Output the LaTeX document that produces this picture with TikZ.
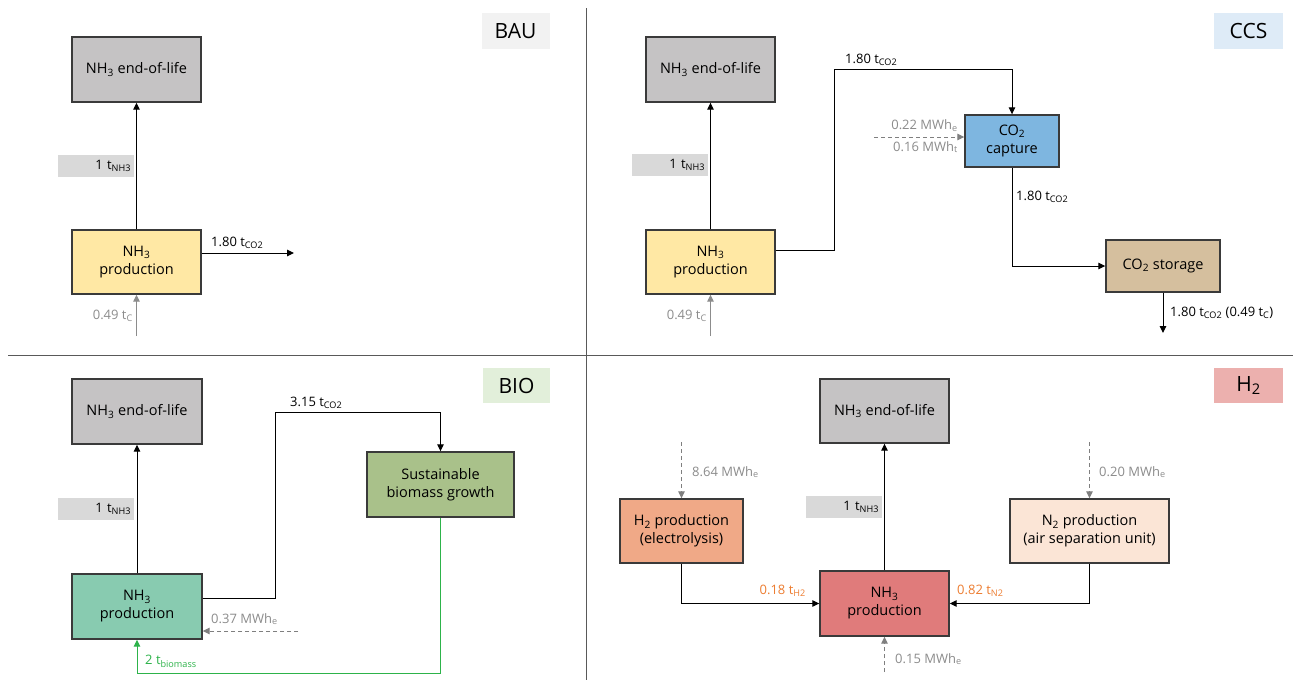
\documentclass[tikz,border=0pt]{standalone}
\usepackage{fontspec}
\setmainfont{Open Sans}
\usetikzlibrary{arrows.meta}
\definecolor{bordc}{HTML}{3A3A3A}
\definecolor{eolc}{HTML}{C5C3C4}
\definecolor{yelc}{HTML}{FFE8A4}
\definecolor{capc}{HTML}{7EB6E0}
\definecolor{stoc}{HTML}{D5BF9E}
\definecolor{bioprodc}{HTML}{88CBB0}
\definecolor{biogc}{HTML}{A9C18A}
\definecolor{hprodc}{HTML}{E07B7B}
\definecolor{htwoc}{HTML}{F0A987}
\definecolor{ntwoc}{HTML}{FBE5D6}
\definecolor{lblc}{HTML}{D9D9D9}
\definecolor{grayt}{HTML}{8C8C8C}
\definecolor{dashc}{HTML}{7F7F7F}
\definecolor{greenc}{HTML}{2DB34A}
\definecolor{orangec}{HTML}{ED7D31}
\definecolor{divc}{HTML}{595959}
\definecolor{baufill}{HTML}{F2F2F2}
\definecolor{ccsfill}{HTML}{DEEBF7}
\definecolor{biofill}{HTML}{E2EFDA}
\definecolor{hfill}{HTML}{ECB0AE}
\newcommand{\sbs}[1]{\textsubscript{#1}}
\tikzset{
  box/.style={draw=bordc, line width=1.4pt, align=center, inner sep=0pt, font=\fontsize{14.5}{18}\selectfont},
  flowlbl/.style={fill=lblc, minimum width=76pt, minimum height=22pt, text width=70pt, align=right, inner sep=2pt, font=\fontsize{13}{15}\selectfont},
  tag/.style={inner sep=0pt, font=\fontsize{21}{24}\selectfont},
  lbl/.style={inner sep=0pt, font=\fontsize{13}{15}\selectfont},
  arr/.style={line width=1pt, -{Triangle[length=7pt,width=6.5pt]}},
  grayarr/.style={draw=grayt, line width=1pt, -{Triangle[length=7pt,width=6.5pt]}, grayt},
  dasharr/.style={draw=dashc, line width=1pt, dash pattern=on 4pt off 3pt, -{Triangle[length=7pt,width=6.5pt]}, dashc},
  greenarr/.style={draw=greenc, line width=1pt, -{Triangle[length=7pt,width=6.5pt]}, greenc},
  divider/.style={draw=divc, line width=1pt}
}
\begin{document}
\begin{tikzpicture}[x=1pt,y=-1pt]
\useasboundingbox[fill=white] (0,0) rectangle (1293,680);
% dividers
\coordinate (v1) at (586,8); \coordinate (v2) at (586,680);
\coordinate (h1) at (8,355); \coordinate (h2) at (1293,355);
\draw[divider] (v1) -- (v2);
\draw[divider] (h1) -- (h2);

% ================= BAU =================
\node[tag, fill=baufill, minimum width=68pt, minimum height=36pt] (b-tag) at (515.5,31) {BAU};
\node[box, fill=eolc, minimum width=129pt, minimum height=65pt] (b-eol) at (136.5,69.5) {NH\sbs{3} end-of-life};
\node[box, fill=yelc, minimum width=129pt, minimum height=64pt] (b-prod) at (136.5,262) {NH\sbs{3}\\production};
\node[flowlbl] (b-l1) at (96,166) {1 t\sbs{NH3}};
\draw[arr] (b-prod) -- (b-eol);
\coordinate (b-co2) at (294,253);
\draw[arr] (b-prod.east |- b-co2) -- (b-co2);
\node[lbl, anchor=south west] (b-l2) at (211,249) {1.80 t\sbs{CO2}};
\coordinate (b-cin) at (136.5,336);
\draw[grayarr] (b-cin) -- (b-prod.south);
\node[lbl, grayt, anchor=east] (b-l3) at (133,316) {0.49 t\sbs{C}};

% ================= CCS =================
\node[tag, fill=ccsfill, minimum width=69pt, minimum height=36pt] (c-tag) at (1248.5,31) {CCS};
\node[box, fill=eolc, minimum width=129pt, minimum height=65pt] (c-eol) at (710.5,69.5) {NH\sbs{3} end-of-life};
\node[box, fill=yelc, minimum width=129pt, minimum height=64pt] (c-prod) at (710.5,262) {NH\sbs{3}\\production};
\node[flowlbl] (c-l1) at (670,165) {1 t\sbs{NH3}};
\draw[arr] (c-prod) -- (c-eol);
\node[box, fill=capc, minimum width=94pt, minimum height=52pt] (c-cap) at (1012,141) {CO\sbs{2}\\capture};
\node[box, fill=stoc, minimum width=114pt, minimum height=52pt] (c-sto) at (1163,266) {CO\sbs{2} storage};
\coordinate (c-k1) at (834,250);
\coordinate (c-k2) at (834,69);
\draw[arr] (c-prod.east |- c-k1) -- (c-k1) -- (c-k2) -| (c-cap.north);
\node[lbl, anchor=south west] (c-l2) at (845,66) {1.80 t\sbs{CO2}};
\coordinate (c-ein) at (874,137);
\draw[dasharr] (c-ein) -- (c-cap.west |- c-ein);
\node[lbl, grayt, anchor=south east] (c-l3) at (958,132) {0.22 MWh\sbs{e}};
\node[lbl, grayt, anchor=north east] (c-l4) at (958,141) {0.16 MWh\sbs{t}};
\draw[arr] (c-cap.south) |- (c-sto.west);
\node[lbl, anchor=west] (c-l5) at (1016,197) {1.80 t\sbs{CO2}};
\coordinate (c-out) at (1163,333);
\draw[arr] (c-sto.south) -- (c-out);
\node[lbl, anchor=west] (c-l6) at (1170,313) {1.80 t\sbs{CO2} (0.49 t\sbs{C})};
\coordinate (c-cin) at (710.5,336);
\draw[grayarr] (c-cin) -- (c-prod.south);
\node[lbl, grayt, anchor=east] (c-l7) at (707,316) {0.49 t\sbs{C}};

% ================= BIO =================
\node[tag, fill=biofill, minimum width=67pt, minimum height=35pt] (o-tag) at (516.5,385.5) {BIO};
\node[box, fill=eolc, minimum width=130pt, minimum height=65pt] (o-eol) at (137,411.5) {NH\sbs{3} end-of-life};
\node[box, fill=bioprodc, minimum width=130pt, minimum height=65pt] (o-prod) at (137,606.5) {NH\sbs{3}\\production};
\node[flowlbl] (o-l1) at (96,509) {1 t\sbs{NH3}};
\draw[arr] (o-prod) -- (o-eol);
\node[box, fill=biogc, minimum width=147pt, minimum height=65pt] (o-bio) at (440.5,484.5) {Sustainable\\biomass growth};
\coordinate (o-k1) at (275,598);
\coordinate (o-k2) at (275,412);
\draw[arr] (o-prod.east |- o-k1) -- (o-k1) -- (o-k2) -| (o-bio.north);
\node[lbl, anchor=south west] (o-l2) at (290,409) {3.15 t\sbs{CO2}};
\coordinate (o-k3) at (440.5,673);
\draw[greenarr] (o-bio.south) -- (o-k3) -| (o-prod.south);
\node[lbl, greenc, anchor=west] (o-l3) at (145,661) {2 t\sbs{biomass}};
\coordinate (o-ein) at (298,631);
\draw[dasharr] (o-ein) -- (o-prod.east |- o-ein);
\node[lbl, grayt, anchor=west] (o-l4) at (211,619) {0.37 MWh\sbs{e}};

% ================= H2 =================
\node[tag, fill=hfill, minimum width=69pt, minimum height=35pt] (h-tag) at (1248.5,385.5) {H\sbs{2}};
\node[box, fill=eolc, minimum width=129pt, minimum height=64pt] (h-eol) at (884.5,411) {NH\sbs{3} end-of-life};
\node[box, fill=hprodc, minimum width=129pt, minimum height=65pt] (h-prod) at (884.5,603.5) {NH\sbs{3}\\production};
\node[flowlbl] (h-l1) at (844,507) {1 t\sbs{NH3}};
\draw[arr] (h-prod) -- (h-eol);
\node[box, fill=htwoc, minimum width=123pt, minimum height=64pt] (h-h2) at (681.5,531) {H\sbs{2} production\\(electrolysis)};
\node[box, fill=ntwoc, minimum width=159pt, minimum height=64pt] (h-n2) at (1089.5,531) {N\sbs{2} production\\(air separation unit)};
\draw[arr] (h-h2.south) |- (h-prod.west);
\draw[arr] (h-n2.south) |- (h-prod.east);
\node[lbl, orangec, anchor=east] (h-l2) at (806,591) {0.18 t\sbs{H2}};
\node[lbl, orangec, anchor=west] (h-l3) at (957,591) {0.82 t\sbs{N2}};
\coordinate (h-e1) at (681.5,442);
\draw[dasharr] (h-e1) -- (h-h2.north);
\node[lbl, grayt, anchor=west] (h-l4) at (692,472) {8.64 MWh\sbs{e}};
\coordinate (h-e2) at (1089.5,442);
\draw[dasharr] (h-e2) -- (h-n2.north);
\node[lbl, grayt, anchor=west] (h-l5) at (1099,472) {0.20 MWh\sbs{e}};
\coordinate (h-e3) at (884.5,672);
\draw[dasharr] (h-e3) -- (h-prod.south);
\node[lbl, grayt, anchor=west] (h-l6) at (895,659) {0.15 MWh\sbs{e}};
\end{tikzpicture}
\end{document}
